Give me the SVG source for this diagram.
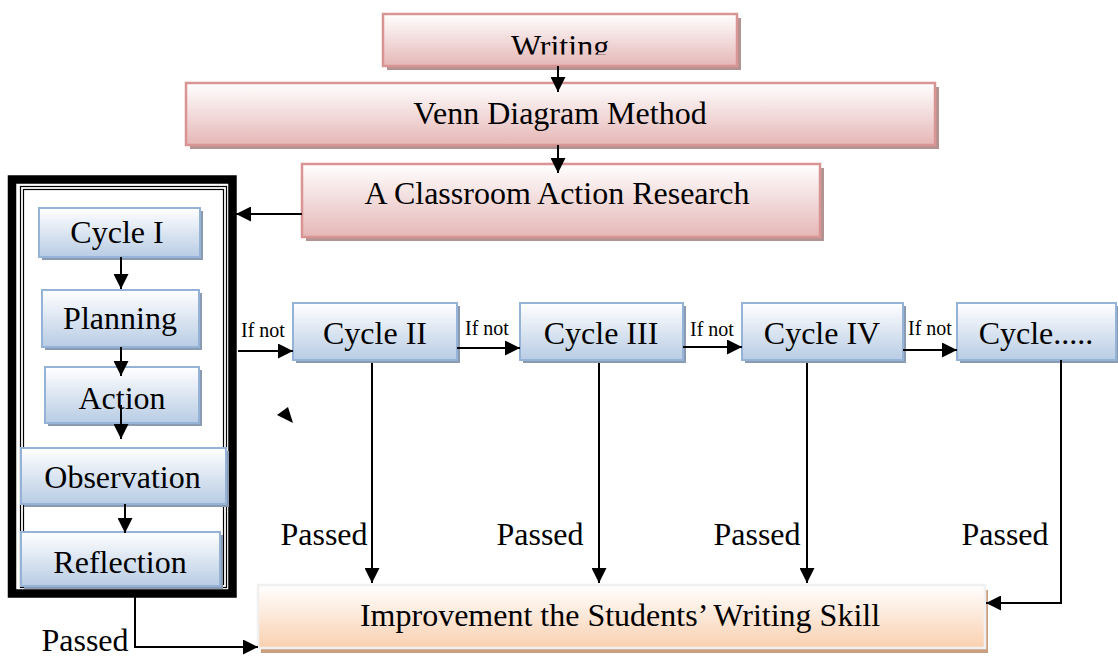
<svg xmlns="http://www.w3.org/2000/svg" width="1118" height="657" viewBox="0 0 1118 657">
  <defs>
    <linearGradient id="gPink" x1="0" y1="0" x2="0" y2="1">
      <stop offset="0" stop-color="#ffffff"/>
      <stop offset="1" stop-color="#e5b7b6"/>
    </linearGradient>
    <linearGradient id="gBlue" x1="0" y1="0" x2="0" y2="1">
      <stop offset="0" stop-color="#ffffff"/>
      <stop offset="1" stop-color="#b8cce4"/>
    </linearGradient>
    <linearGradient id="gPeach" x1="0" y1="0" x2="0" y2="1">
      <stop offset="0" stop-color="#ffffff"/>
      <stop offset="1" stop-color="#f9d0b0"/>
    </linearGradient>
    <marker id="arr" markerWidth="15" markerHeight="15" refX="15" refY="7.5" orient="auto" markerUnits="userSpaceOnUse">
      <path d="M0,0 L15,7.5 L0,15 Z" fill="#000"/>
    </marker>
    <clipPath id="clipWriting">
      <rect x="380" y="10" width="360" height="44.5"/>
    </clipPath>
  </defs>
  <style>
    .lbl { font-family: "Liberation Serif", "Times New Roman", serif; font-size: 32px; fill: #000; text-anchor: middle; }
    .small { font-family: "Liberation Serif", "Times New Roman", serif; font-size: 20px; fill: #000; }
    .pink { fill: url(#gPink); stroke: #d99594; stroke-width: 2.5; }
    .pinkSh { fill: #b39292; }
    .blue { fill: url(#gBlue); stroke: #95b3d7; stroke-width: 2; }
    .blueSh { fill: #8a9ab0; }
    .peach { fill: url(#gPeach); stroke: #f0f0f0; stroke-width: 2.5; }
    .peachSh { fill: #c99f80; }
    .line { fill: none; stroke: #000; stroke-width: 2; }
  </style>
  <rect width="1118" height="657" fill="#ffffff"/>

  <!-- top chain -->
  <g id="writing">
    <rect class="pinkSh" x="387" y="18" width="354" height="52"/>
    <rect class="pink" x="383" y="14" width="354" height="52"/>
    <text class="lbl" x="560" y="57" clip-path="url(#clipWriting)">Writing</text>
  </g>
  <g id="venn">
    <rect class="pinkSh" x="190" y="87" width="749" height="62"/>
    <rect class="pink" x="186" y="83" width="749" height="62"/>
    <text class="lbl" x="560" y="124">Venn Diagram Method</text>
  </g>
  <g id="car">
    <rect class="pinkSh" x="306" y="168" width="518" height="73"/>
    <rect class="pink" x="302" y="164" width="518" height="73"/>
    <text class="lbl" x="557" y="204">A Classroom Action Research</text>
  </g>

  <!-- cycle I frame -->
  <g id="frame">
    <rect x="12" y="179.5" width="220.5" height="414" fill="#ffffff" stroke="#000" stroke-width="8.5"/>
    <rect x="20.5" y="186.5" width="206" height="401" fill="none" stroke="#000" stroke-width="1.2"/>
    <rect x="23.5" y="189.5" width="200" height="395" fill="none" stroke="#000" stroke-width="1.2"/>
  </g>
  <g id="cycle1">
    <rect class="blueSh" x="42" y="211" width="161" height="49"/>
    <rect class="blue" x="39" y="208" width="161" height="49" stroke="none"/>
    <text class="lbl" x="117" y="243">Cycle I</text>
  </g>
  <g id="planning">
    <rect class="blueSh" x="45" y="293" width="157" height="57"/>
    <rect class="blue" x="42" y="290" width="157" height="57"/>
    <text class="lbl" x="120" y="329">Planning</text>
  </g>
  <g id="action">
    <rect class="blueSh" x="48" y="370" width="154" height="56"/>
    <rect class="blue" x="45" y="367" width="154" height="56"/>
    <text class="lbl" x="122" y="409">Action</text>
  </g>
  <g id="observation">
    <rect class="blueSh" x="24" y="451" width="205" height="56"/>
    <rect class="blue" x="21" y="448" width="205" height="56"/>
    <text class="lbl" x="122.5" y="488">Observation</text>
  </g>
  <g id="reflection">
    <rect class="blueSh" x="24" y="535" width="199" height="54"/>
    <rect class="blue" x="21" y="532" width="199" height="54"/>
    <text class="lbl" x="120" y="573">Reflection</text>
  </g>

  <!-- later cycles -->
  <g id="cycle2">
    <rect class="blueSh" x="296" y="306" width="164" height="57"/>
    <rect class="blue" x="293" y="303" width="164" height="57"/>
    <text class="lbl" x="375" y="344">Cycle II</text>
  </g>
  <g id="cycle3">
    <rect class="blueSh" x="523" y="306" width="163" height="57"/>
    <rect class="blue" x="520" y="303" width="163" height="57"/>
    <text class="lbl" x="601" y="344">Cycle III</text>
  </g>
  <g id="cycle4">
    <rect class="blueSh" x="745" y="306" width="161" height="57"/>
    <rect class="blue" x="742" y="303" width="161" height="57"/>
    <text class="lbl" x="822" y="344">Cycle IV</text>
  </g>
  <g id="cycleN">
    <rect class="blueSh" x="960" y="306" width="160" height="57"/>
    <rect class="blue" x="957" y="303" width="159" height="57"/>
    <text class="lbl" x="1036" y="344">Cycle.....</text>
  </g>

  <g id="improvement">
    <rect class="peachSh" x="261" y="590" width="727" height="63"/>
    <rect class="peach" x="258" y="585" width="727" height="63"/>
    <text class="lbl" x="620" y="626">Improvement the Students’ Writing Skill</text>
  </g>

  <!-- connectors -->
  <g id="connectors">
    <line class="line" x1="558" y1="66" x2="558" y2="92" marker-end="url(#arr)"/>
    <line class="line" x1="558" y1="145" x2="558" y2="173" marker-end="url(#arr)"/>
    <line class="line" x1="302" y1="214" x2="236" y2="214" marker-end="url(#arr)"/>

    <line class="line" x1="121" y1="257" x2="121" y2="289" marker-end="url(#arr)"/>
    <line class="line" x1="121" y1="347" x2="121" y2="376" marker-end="url(#arr)"/>
    <line class="line" x1="121" y1="405" x2="121" y2="439" marker-end="url(#arr)"/>
    <line class="line" x1="125" y1="504" x2="125" y2="533" marker-end="url(#arr)"/>

    <line class="line" x1="238" y1="351" x2="293" y2="351" marker-end="url(#arr)"/>
    <line class="line" x1="457" y1="348" x2="520" y2="348" marker-end="url(#arr)"/>
    <line class="line" x1="683" y1="347" x2="742" y2="347" marker-end="url(#arr)"/>
    <line class="line" x1="903" y1="350" x2="957" y2="350" marker-end="url(#arr)"/>

    <line class="line" x1="372" y1="363" x2="372" y2="583" marker-end="url(#arr)"/>
    <line class="line" x1="599" y1="363" x2="599" y2="583" marker-end="url(#arr)"/>
    <line class="line" x1="807" y1="363" x2="807" y2="583" marker-end="url(#arr)"/>
    <polyline class="line" points="1061,360 1061,603 986,603" marker-end="url(#arr)"/>
    <polyline class="line" points="135,597 135,647 258,647" marker-end="url(#arr)"/>

    <polygon points="277,415 288,407 293,423" fill="#000"/>
  </g>

  <!-- connector labels -->
  <g id="labels">
    <text class="small" x="241" y="337">If not</text>
    <text class="small" x="465" y="335">If not</text>
    <text class="small" x="690" y="336">If not</text>
    <text class="small" x="908" y="335">If not</text>
    <text class="lbl" x="324" y="545">Passed</text>
    <text class="lbl" x="540" y="545">Passed</text>
    <text class="lbl" x="757" y="545">Passed</text>
    <text class="lbl" x="1005" y="545">Passed</text>
    <text class="lbl" x="85" y="651">Passed</text>
  </g>
</svg>
